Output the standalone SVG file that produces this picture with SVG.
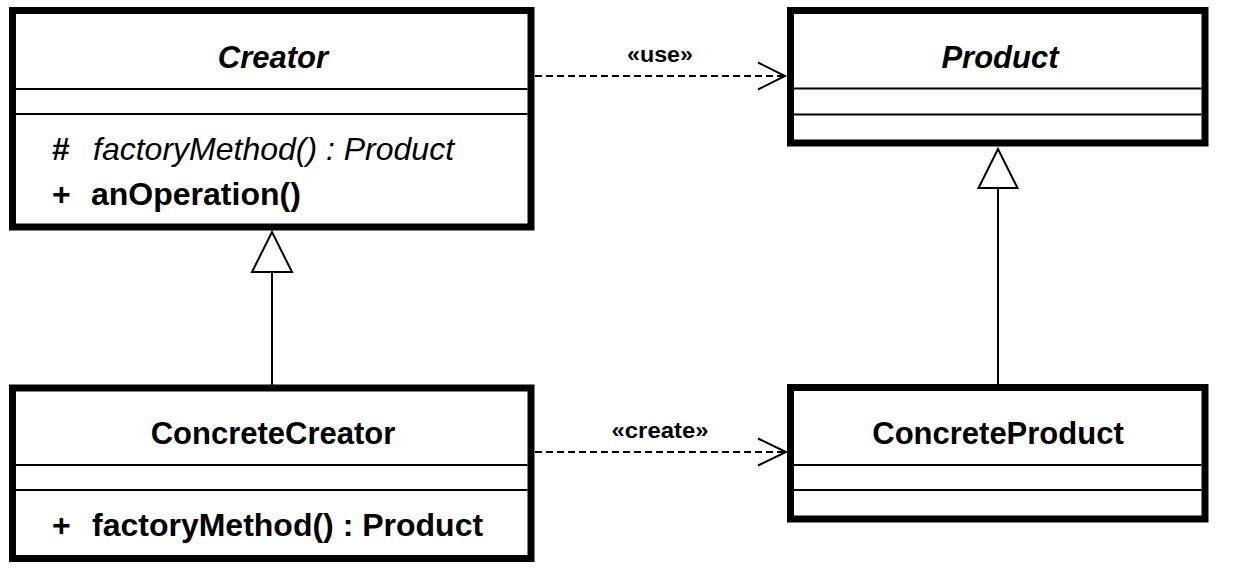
<svg xmlns="http://www.w3.org/2000/svg" width="1252" height="570" viewBox="0 0 1252 570">
  <style>
    .box { fill: #ffffff; stroke: #000000; stroke-width: 7; }
    .div { stroke: #000000; stroke-width: 2; fill: none; }
    .t { font-family: "Liberation Sans", Arial, Helvetica, sans-serif; font-size: 32px; fill: #000000; }
    .h { font-size: 31px; }
    .b { font-weight: bold; }
    .i { font-style: italic; }
    .mid { text-anchor: middle; }
    .st { font-family: "Liberation Sans", Arial, Helvetica, sans-serif; font-size: 22px; font-weight: bold; fill: #000000; text-anchor: middle; }
    .dep { stroke: #000000; stroke-width: 2; stroke-dasharray: 7 4; fill: none; }
    .gen { stroke: #000000; stroke-width: 2; fill: none; }
    .tri { stroke: #000000; stroke-width: 2; fill: #ffffff; }
    .head { stroke: #000000; stroke-width: 2; fill: none; }
  </style>
  <rect x="0" y="0" width="1252" height="570" fill="#ffffff"/>

  <g id="connectors">
    <g id="use-dep">
      <line class="dep" x1="535" y1="76" x2="784" y2="76"/>
      <polyline class="head" points="758,62.5 785,76 758,89.5"/>
      <text class="st" x="660" y="62" textLength="66" lengthAdjust="spacingAndGlyphs">«use»</text>
    </g>
    <g id="create-dep">
      <line class="dep" x1="535" y1="452" x2="785" y2="452"/>
      <polyline class="head" points="758,438.5 786,452 758,465.5"/>
      <text class="st" x="660" y="438" textLength="97" lengthAdjust="spacingAndGlyphs">«create»</text>
    </g>
    <g id="gen-creator">
      <line class="gen" x1="272" y1="272" x2="272" y2="385"/>
      <polygon class="tri" points="272,232 252,272 292,272"/>
    </g>
    <g id="gen-product">
      <line class="gen" x1="998" y1="188" x2="998" y2="384"/>
      <polygon class="tri" points="998,149 978.5,188 1017.5,188"/>
    </g>
  </g>

  <g id="Creator">
    <rect class="box" x="12.5" y="10.5" width="518.5" height="216.5"/>
    <line class="div" x1="16" y1="89" x2="527.5" y2="89"/>
    <line class="div" x1="16" y1="114" x2="527.5" y2="114"/>
    <text class="t h b i mid" x="273" y="68">Creator</text>
    <text class="t b" x="52" y="160">#</text>
    <text class="t i" x="93" y="160">factoryMethod() : Product</text>
    <text class="t b" x="52" y="205">+</text>
    <text class="t b" x="91" y="205">anOperation()</text>
  </g>

  <g id="Product">
    <rect class="box" x="790.5" y="10.5" width="414.5" height="132.5"/>
    <line class="div" x1="794" y1="88.5" x2="1201.5" y2="88.5"/>
    <line class="div" x1="794" y1="114.5" x2="1201.5" y2="114.5"/>
    <text class="t h b i mid" x="1000" y="68">Product</text>
  </g>

  <g id="ConcreteCreator">
    <rect class="box" x="12.5" y="388" width="518.5" height="170.5"/>
    <line class="div" x1="16" y1="465" x2="527.5" y2="465"/>
    <line class="div" x1="16" y1="490" x2="527.5" y2="490"/>
    <text class="t h b mid" x="273" y="444">ConcreteCreator</text>
    <text class="t b" x="52" y="536">+</text>
    <text class="t b" x="92" y="536">factoryMethod() : Product</text>
  </g>

  <g id="ConcreteProduct">
    <rect class="box" x="790.5" y="387.5" width="414.5" height="131.5"/>
    <line class="div" x1="794" y1="465" x2="1201.5" y2="465"/>
    <line class="div" x1="794" y1="490" x2="1201.5" y2="490"/>
    <text class="t h b mid" x="998" y="444">ConcreteProduct</text>
  </g>
</svg>
